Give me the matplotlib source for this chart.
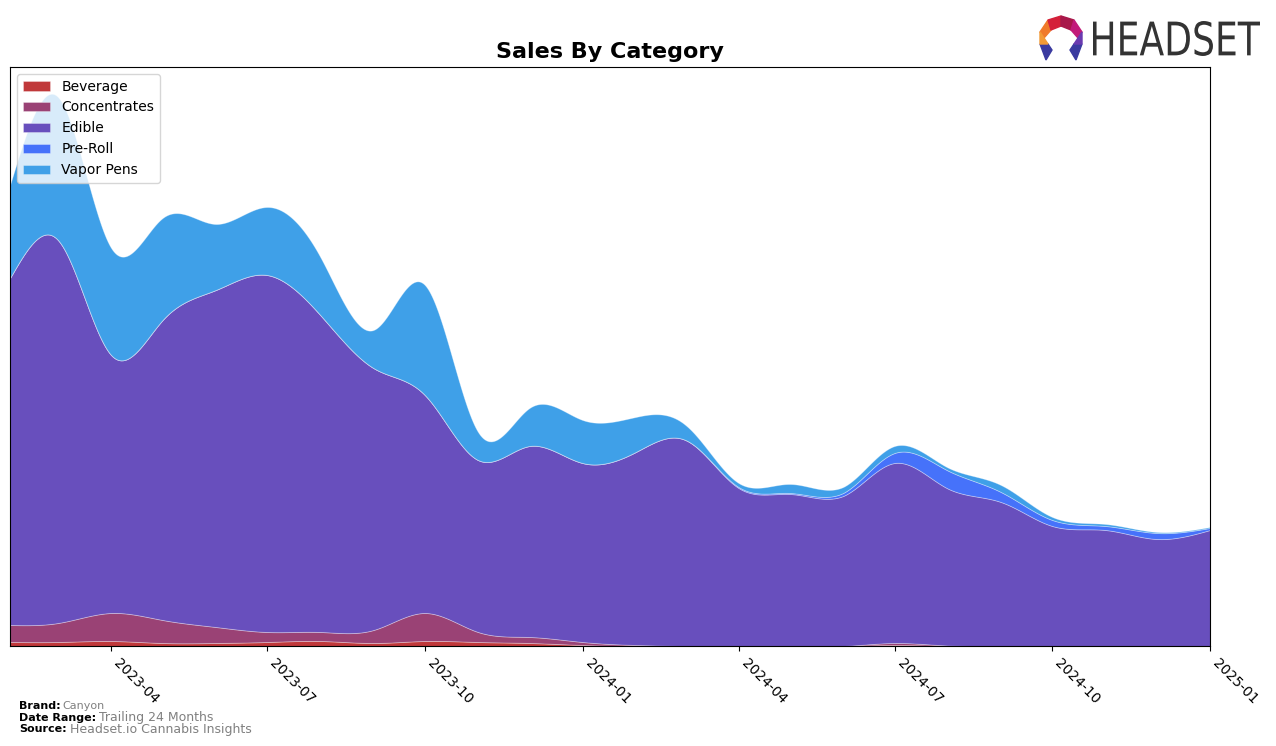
import numpy as np
import pandas as pd
import matplotlib
matplotlib.use("Agg")
import matplotlib.pyplot as plt
import matplotlib.dates as mdates
from matplotlib.patches import Polygon, PathPatch
from matplotlib.textpath import TextPath
from matplotlib.font_manager import FontProperties
from matplotlib.transforms import Affine2D, IdentityTransform

months = pd.date_range("2023-02-01", "2025-01-01", freq="MS")
categories = ["Beverage", "Concentrates", "Edible", "Pre-Roll", "Vapor Pens"]
beverage = [4, 4, 5, 3, 3, 4, 5, 3, 5, 4, 3, 1, 0, 0, 0, 0, 0, 1, 0, 0, 0, 0, 0, 0]
concentrates = [17, 19, 28, 23, 16, 10, 9, 13, 28, 10, 6, 3, 1, 0, 0, 0, 0, 2, 0.5, 0, 0, 0, 0, 0]
edible = [347, 383, 258, 300, 337, 357, 317, 262, 218, 172, 191, 179, 193, 206, 158, 152, 150, 180, 157, 144, 120, 116, 107, 116]
preroll = [0, 0, 0, 0, 0, 0, 0, 0, 0, 0, 0, 0, 0, 0, 1, 1, 3, 10, 18, 10, 6, 4, 6, 2]
vapor = [93, 143, 107, 102, 66, 68, 58, 38, 110, 28, 38, 43, 35, 15, 4, 9, 6, 7, 3, 7, 3, 2, 1, 1]
colors = ["#c0383a", "#9a4275", "#684fbd", "#4672fa", "#3fa0e8"]


def natural_spline(x, y, xs):
    x = np.asarray(x, float)
    y = np.asarray(y, float)
    n = len(x)
    h = np.diff(x)
    A = np.zeros((n, n))
    b = np.zeros(n)
    A[0, 0] = 1
    A[-1, -1] = 1
    for i in range(1, n - 1):
        A[i, i - 1] = h[i - 1]
        A[i, i] = 2 * (h[i - 1] + h[i])
        A[i, i + 1] = h[i]
        b[i] = 3 * ((y[i + 1] - y[i]) / h[i] - (y[i] - y[i - 1]) / h[i - 1])
    c = np.linalg.solve(A, b)
    bb = np.zeros(n - 1)
    d = np.zeros(n - 1)
    for i in range(n - 1):
        bb[i] = (y[i + 1] - y[i]) / h[i] - h[i] * (2 * c[i] + c[i + 1]) / 3
        d[i] = (c[i + 1] - c[i]) / (3 * h[i])
    idx = np.clip(np.searchsorted(x, xs, side="right") - 1, 0, n - 2)
    dx = xs - x[idx]
    return y[idx] + bb[idx] * dx + c[idx] * dx ** 2 + d[idx] * dx ** 3


xnum = mdates.date2num(months.to_pydatetime())
xs = np.linspace(xnum[0], xnum[-1], 800)
series = [beverage, concentrates, edible, preroll, vapor]
smooth = [np.clip(natural_spline(xnum, s, xs), 0, None) for s in series]

W, H = 1276, 746
fig = plt.figure(figsize=(W / 100, H / 100), dpi=100)
ax = fig.add_axes([10 / W, 100 / H, 1200 / W, 579 / H])
ax.stackplot(xs, *smooth, labels=categories, colors=colors,
             edgecolor=(1, 1, 1, 0.35), linewidth=0.6)
ax.set_xlim(xnum[0], xnum[-1])
ax.set_ylim(0, 579)
ax.set_yticks([])
ticks = pd.date_range("2023-04-01", "2025-01-01", freq="3MS")
ax.set_xticks(mdates.date2num(ticks.to_pydatetime()))
ax.set_xticklabels([t.strftime("%Y-%m") for t in ticks], rotation=-45,
                   ha="left", va="top", fontsize=10)
fig.text(610 / W, 1 - 52 / H, "Sales By Category", fontsize=16,
         fontweight="bold", ha="center", va="center")
leg = ax.legend(loc="upper left", fontsize=10, frameon=True,
                handlelength=2.0, handleheight=0.7, borderpad=0.4,
                labelspacing=0.5)

# footer
fig.text(19 / W, 1 - 706 / H, "Brand:", fontsize=8, fontweight="bold", va="center")
fig.text(62 / W, 1 - 706 / H, "Canyon", fontsize=8, color="grey", va="center")
fig.text(19 / W, 1 - 718 / H, "Date Range:", fontsize=8, fontweight="bold", va="center")
fig.text(99 / W, 1 - 718 / H, "Trailing 24 Months", fontsize=9, color="grey", va="center")
fig.text(19 / W, 1 - 729 / H, "Source:", fontsize=8, fontweight="bold", va="center")
fig.text(70 / W, 1 - 729 / H, "Headset.io Cannabis Insights", fontsize=9, color="grey", va="center")

# logo wordmark (outlined text path squeezed to the logo's box)
tp = TextPath((0, 0), "HEADSET", size=48, prop=FontProperties(family="DejaVu Sans"))
ext = tp.get_extents()
x0, x1, y0, y1 = 1093, 1260, H - 56, H - 21
tr = (Affine2D().translate(-ext.x0, -ext.y0)
      .scale((x1 - x0) / ext.width, (y1 - y0) / ext.height)
      .translate(x0, y0))
fig.patches.append(PathPatch(tr.transform_path(tp), facecolor="#333333",
                             edgecolor="none", transform=IdentityTransform(),
                             figure=fig))

lax = fig.add_axes([1036 / W, 1 - 62 / H, 50 / W, 48 / H])
lax.set_xlim(0, 50)
lax.set_ylim(0, 48)
lax.axis("off")
polys = [
    ([(4, 30), (12, 42), (15, 32), (8, 24)], "#f07a2a"),
    ([(12, 42), (25, 46), (25, 36), (15, 32)], "#d4203a"),
    ([(25, 46), (38, 42), (35, 32), (25, 36)], "#a8184a"),
    ([(38, 42), (46, 30), (42, 24), (35, 32)], "#c21a7a"),
    ([(4, 18), (12, 18), (16, 12), (10, 2)], "#3a3aa0"),
    ([(46, 18), (38, 18), (34, 12), (40, 2)], "#3a3aa0"),
    ([(4, 30), (8, 24), (12, 18), (4, 18)], "#f29a35"),
    ([(46, 30), (42, 24), (38, 18), (46, 18)], "#6a3ab0"),
]
for pts, c in polys:
    lax.add_patch(Polygon(pts, closed=True, color=c))

fig.savefig("out.png", dpi=100)
